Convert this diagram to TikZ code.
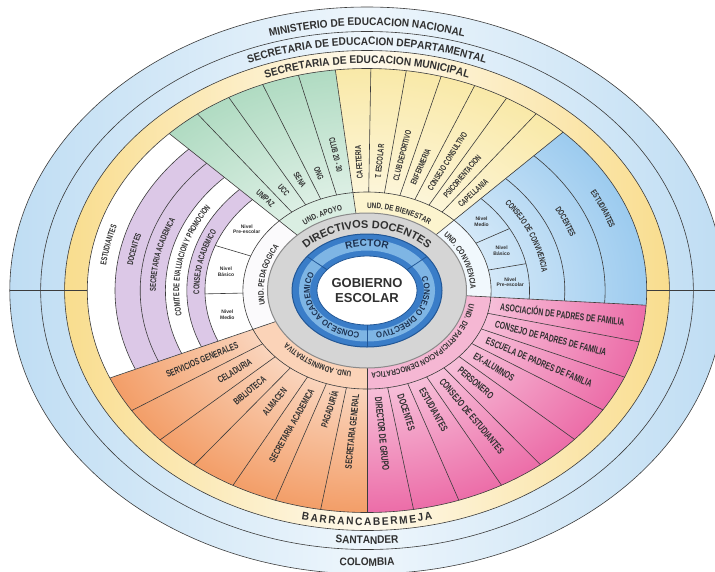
\documentclass[tikz,border=0pt]{standalone}
\usepackage{fontspec}
\setmainfont{Liberation Sans}
\newfontfamily\cf{Liberation Sans}[FakeStretch=0.68]
\newfontfamily\cfu{Liberation Sans}[FakeStretch=0.8]
\newfontfamily\cfw{Liberation Sans}[FakeStretch=0.92]
\usetikzlibrary{decorations.text}
\definecolor{ln}{HTML}{3C3C3C}
\definecolor{tx}{HTML}{303030}
\definecolor{skyA}{HTML}{BFDDF3}
\definecolor{skyB}{HTML}{EEF6FC}
\definecolor{yelA}{HTML}{F9DD8E}
\definecolor{yelB}{HTML}{FEF9EC}
\definecolor{grnO}{HTML}{B0DBC2}
\definecolor{ylwO}{HTML}{F9E9A8}
\definecolor{bluO}{HTML}{9CCBEF}
\definecolor{pnkO}{HTML}{EC6DA8}
\definecolor{orgO}{HTML}{F39E68}
\definecolor{lav}{HTML}{DCC8E7}
\definecolor{undG}{HTML}{DAEEE2}
\definecolor{undY}{HTML}{FCF4CE}
\definecolor{undB}{HTML}{F1F8FD}
\definecolor{undP}{HTML}{F5B7D3}
\definecolor{undO}{HTML}{FBD3B8}
\definecolor{undL}{HTML}{FBFAFC}
\definecolor{gry}{HTML}{D5D5D5}
\definecolor{gryL}{HTML}{8A8A8A}
\definecolor{blA}{HTML}{3A7DC8}
\definecolor{blB}{HTML}{8BBFEA}
\definecolor{blL}{HTML}{225796}
\definecolor{nav}{HTML}{1C3150}
\newcommand\KK{1.26}
% #1 a1, #2 a2, #3 r1, #4 r2, #5 command
\newcommand\seg[5]{#5 ({\KK*(#3)*cos(#1)},{(#3)*sin(#1)}) arc[start angle=#1,end angle=#2,x radius={\KK*(#3)},y radius={#3}] -- ({\KK*(#4)*cos(#2)},{(#4)*sin(#2)}) arc[start angle=#2,end angle=#1,x radius={\KK*(#4)},y radius={#4}] -- cycle;}
\newcommand\shsec[3]{\begin{scope}\seg{#1}{#2}{98.5}{222}{\clip}\shade[inner color=white,outer color=#3] (0,0) ellipse[x radius={\KK*222},y radius=222];\end{scope}}
\newcommand\spk[3]{\draw[sp] ({\KK*(#2)*cos(#1)},{(#2)*sin(#1)}) -- ({\KK*(#3)*cos(#1)},{(#3)*sin(#1)});}
\newcommand\arcl[3]{\draw[sp] ({\KK*(#3)*cos(#1)},{(#3)*sin(#1)}) arc[start angle=#1,end angle=#2,x radius={\KK*(#3)},y radius={#3}];}
\newcommand\atext[7]{\path[decorate,decoration={text along path,text align=#5,text={|#6|#7}}] ({(#3)*cos(#1)},{(#4)*sin(#1)}) arc[start angle=#1,end angle=#2,x radius={#3},y radius={#4}];}
\newcommand\rout[5]{\node[it,#5,anchor=west,rotate={atan2(sin(#2),\KK*cos(#2))}] (#1) at ({\KK*(#3)*cos(#2)},{(#3)*sin(#2)}) {#4};}
\newcommand\rin[5]{\node[it,#5,anchor=east,rotate={atan2(sin(#2),\KK*cos(#2))+180}] (#1) at ({\KK*(#3)*cos(#2)},{(#3)*sin(#2)}) {#4};}
\newcommand\ftR{\cfw\bfseries\fontsize{11}{12}\selectfont\color{tx}}
\newcommand\ftU{\cfu\bfseries\fontsize{8}{9}\selectfont\color{tx}}
\newcommand\ftB{\cf\bfseries\fontsize{8.5}{9}\selectfont\color{tx}}
\newcommand\ftC{\cfw\bfseries\fontsize{8.5}{9}\selectfont\color{nav}}
\tikzset{sp/.style={draw=ln,line width=0.6pt},
  it/.style={text=tx,inner sep=0pt},
  fG/.style={font=\cf\bfseries\fontsize{8.5}{9}\selectfont},
  fP/.style={font=\cf\bfseries\fontsize{10}{11}\selectfont},
  fO/.style={font=\cf\bfseries\fontsize{9.5}{10}\selectfont},
  nv/.style={text=tx,inner sep=0pt,align=center,font=\bfseries\fontsize{5}{5.6}\selectfont}}
\begin{document}
\begin{tikzpicture}[x=1pt,y=1pt]
\useasboundingbox (0,0) rectangle (715,-571);
\fill[white] (0,0) rectangle (715,-571);
\begin{scope}[shift={(367,-290.5)}]
% outer rings
\shade[left color=skyA,right color=skyA,middle color=skyB] (0,0) ellipse[x radius={\KK*283.5},y radius=283.5];
\shade[left color=yelA,right color=yelA,middle color=yelB] (0,0) ellipse[x radius={\KK*240},y radius=240];
% sectors
\shsec{96.5}{135}{grnO}
\shsec{45.5}{96.5}{ylwO}
\shsec{-3.8}{45.5}{bluO}
\shsec{-90}{-3.8}{pnkO}
\shsec{203.2}{270}{orgO}
\seg{135}{203.2}{98.5}{222}{\fill[white]}
\seg{135}{203.2}{128.6}{143}{\fill[lav]}
\seg{135}{203.2}{160}{200}{\fill[lav]}
% unit ring
\seg{96.5}{135}{70}{98.5}{\fill[undG]}
\seg{45.5}{96.5}{70}{98.5}{\fill[undY]}
\seg{-3.8}{45.5}{70}{98.5}{\fill[undB]}
\seg{-90}{-3.8}{70}{98.5}{\fill[undP]}
\seg{203.2}{270}{70}{98.5}{\fill[undO]}
\seg{135}{203.2}{70}{98.5}{\fill[undL]}
% lines
\foreach \r in {283.5,259,240,222,98.5} {\draw[sp] (0,0) ellipse[x radius={\KK*\r},y radius=\r];}
\draw[sp] ({-\KK*283.5},0) -- ({-\KK*222},0);
\draw[sp] ({\KK*222},0) -- ({\KK*283.5},0);
\foreach \a in {135,96.5,45.5,-3.8,-90,203.2} {\spk{\a}{70}{222}}
\foreach \a in {127.3,119.6,111.9,104.2} {\spk{\a}{98.5}{222}}
\foreach \a in {89.21,81.93,74.64,67.36,60.07,52.79} {\spk{\a}{98.5}{222}}
\foreach \a in {-13.38,-22.96,-32.53,-42.11,-51.69,-61.27,-70.84,-80.42} {\spk{\a}{98.5}{222}}
\foreach \a in {212.74,222.29,231.83,241.37,250.91,260.46} {\spk{\a}{98.5}{222}}
\foreach \r in {128.6,143,160,180,200} {\arcl{135}{203.2}{\r}}
\foreach \a in {159.5,181.5} {\spk{\a}{98.5}{128.6}}
\foreach \r in {129,157,189} {\arcl{-3.8}{45.5}{\r}}
\foreach \a in {12,28.7} {\spk{\a}{98.5}{129}}
% centre
\filldraw[fill=gry,draw=gryL,line width=1pt] (0,0) ellipse[x radius=99.5,y radius=77.5];
\fill[blA] (0,0) ellipse[x radius=75,y radius=56.5];
\draw[blB,line width=11pt,opacity=0.85] (0,0) ellipse[x radius=62.5,y radius=45.5];
\draw[blL,line width=1pt] (0,0) ellipse[x radius=75,y radius=56.5];
\filldraw[fill=white,draw=blL,line width=0.8pt] (0,0) ellipse[x radius=50,y radius=34.5];
\foreach \a in {143,37,-90} {\draw[blL,line width=0.8pt] ({50*cos(\a)},{34.5*sin(\a)}) -- ({75*cos(\a)},{56.5*sin(\a)});}
\node[text=tx,align=center,inner sep=0pt,font=\bfseries\fontsize{13}{15.5}\selectfont] (ge) at (0,0) {GOBIERNO\\ESCOLAR};
% curved texts
\atext{140}{40}{\KK*265}{265}{center}{\ftR}{MINISTERIO DE EDUCACION NACIONAL}
\atext{145}{35}{\KK*245.5}{245.5}{center}{\ftR}{SECRETARIA DE EDUCACION DEPARTAMENTAL}
\atext{140}{40}{\KK*227}{227}{center}{\ftR}{SECRETARIA DE EDUCACION MUNICIPAL}
\atext{257.2}{282.8}{\KK*235}{235}{fit to path}{\ftR}{BARRANCABERMEJA}
\atext{240}{300}{\KK*253.5}{253.5}{center}{\ftR}{SANTANDER}
\atext{240}{300}{\KK*275.5}{275.5}{center}{\ftR}{COLOMBIA}
\atext{140}{92}{\KK*82}{82}{center}{\ftU}{UND. APOYO}
\atext{100}{42}{\KK*82}{82}{center}{\ftU}{UND. DE BIENESTAR}
\atext{50}{-8}{\KK*82}{82}{center}{\ftU}{UND. CONVIVENCIA}
\atext{5}{-99}{\KK*82}{82}{center}{\ftU}{UND. DE PARTICIPACION DEMOCRATICA}
\atext{-70}{-175}{\KK*82}{82}{center}{\ftU}{UND. ADMINISTRATIVA}
\atext{215}{125}{\KK*82}{82}{center}{\ftU}{UND. PEDAGOGICA}
\atext{160}{20}{82}{62.5}{center}{\bfseries\fontsize{11}{11}\selectfont\color{tx}}{DIRECTIVOS DOCENTES}
\atext{130}{50}{58}{44}{center}{\bfseries\fontsize{10}{10}\selectfont\color{nav}}{RECTOR}
\atext{37}{-97}{57}{42.5}{center}{\ftC}{CONSEJO DIRECTIVO}
\atext{275}{142}{57}{42.5}{center}{\ftC}{CONSEJO ACADEMICO}
% pedagogica rings
\atext{215}{123}{\KK*133}{133}{center}{\ftB}{CONSEJO ACADEMICO}
\atext{215}{123}{\KK*149}{149}{center}{\ftB}{COMITE DE EVALUACION Y PROMOCION}
\atext{215}{123}{\KK*167.5}{167.5}{center}{\ftB}{SECRETARIA ACADEMICA}
\atext{215}{123}{\KK*187.5}{187.5}{center}{\ftB}{DOCENTES}
\atext{215}{123}{\KK*208.5}{208.5}{center}{\ftB}{ESTUDIANTES}
% convivencia rings
\atext{65}{-23}{\KK*140}{140}{center}{\ftB}{CONSEJO DE CONVIVENCIA}
\atext{65}{-23}{\KK*170}{170}{center}{\ftB}{DOCENTES}
\atext{65}{-23}{\KK*202.5}{202.5}{center}{\ftB}{ESTUDIANTES}
% nivel cells
\node[nv] (pn1) at ({\KK*113.5*cos(147.25)},{113.5*sin(147.25)}) {Nivel\\Pre-escolar};
\node[nv] (pn2) at ({\KK*113.5*cos(170.5)},{113.5*sin(170.5)}) {Nivel\\Básico};
\node[nv] (pn3) at ({\KK*113.5*cos(192.35)},{113.5*sin(192.35)}) {Nivel\\Medio};
\node[nv] (bn1) at ({\KK*114*cos(37.1)},{114*sin(37.1)}) {Nivel\\Medio};
\node[nv] (bn2) at ({\KK*114*cos(20.35)},{114*sin(20.35)}) {Nivel\\Básico};
\node[nv] (bn3) at ({\KK*114*cos(4.1)},{114*sin(4.1)}) {Nivel\\Pre-escolar};
% apoyo
\rin{g1}{131.15}{113}{UNIPAZ}{fG}
\rin{g2}{123.45}{114}{UCC}{fG}
\rin{g3}{115.75}{115}{SENA}{fG}
\rin{g4}{108.05}{117}{ONG}{fG}
\rin{g5}{100.35}{120}{CLUB 20 - 30}{fG}
% bienestar
\rout{y1}{92.86}{112}{CAFETERIA}{fG}
\rout{y2}{85.57}{112}{T. ESCOLAR}{fG}
\rout{y3}{78.29}{112}{CLUB DEPORTIVO}{fG}
\rout{y4}{71}{112}{ENFERMERIA}{fG}
\rout{y5}{63.71}{112}{CONSEJO CONSULTIVO}{fG}
\rout{y6}{56.43}{112}{PSICORIENTACION}{fG}
\rout{y7}{49.14}{112}{CAPELLANIA}{fG}
% participacion
\rout{p1}{-8.59}{107}{ASOCIACIÓN DE PADRES DE FAMILIA}{fP}
\rout{p2}{-18.17}{107}{CONSEJO DE PADRES DE FAMILIA}{fP}
\rout{p3}{-27.74}{107}{ESCUELA DE PADRES DE FAMILIA}{fP}
\rout{p4}{-37.32}{107}{EX-ALUMNOS}{fP}
\rout{p5}{-46.9}{107}{PERSONERO}{fP}
\rout{p6}{-56.48}{107}{CONSEJO DE ESTUDIANTES}{fP}
\rout{p7}{-66.06}{107}{ESTUDIANTES}{fP}
\rout{p8}{-75.63}{107}{DOCENTES}{fP}
\rout{p9}{-85.21}{107}{DIRECTOR DE GRUPO}{fP}
% administrativa
\rin{o1}{207.97}{116}{SERVICIOS GENERALES}{fO}
\rin{o2}{217.51}{116}{CELADURIA}{fO}
\rin{o3}{227.06}{119}{BIBLIOTECA}{fO}
\rin{o4}{236.6}{118}{ALMACEN}{fO}
\rin{o5}{246.14}{108}{SECRETARIA ACADEMICA}{fO}
\rin{o6}{255.69}{103}{PAGADURÍA}{fO}
\rin{o7}{265.23}{104}{SECRETARIA GENERAL}{fO}
\end{scope}
\end{tikzpicture}
\end{document}
